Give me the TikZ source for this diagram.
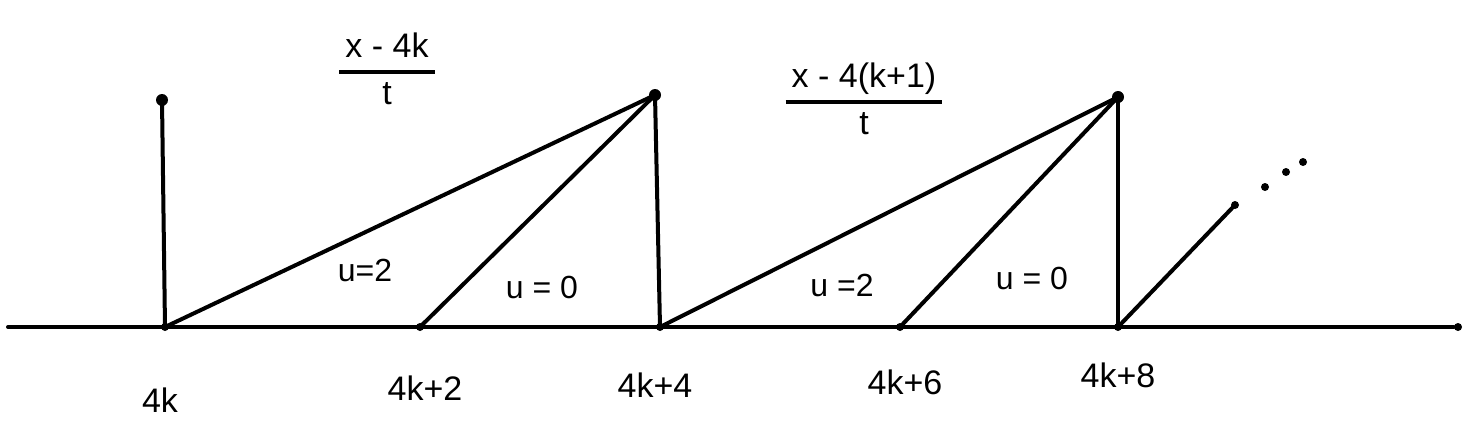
\documentclass[tikz,border=0pt]{standalone}
\usepackage{fontspec}
\setmainfont{Liberation Sans}
\begin{document}
\begin{tikzpicture}[x=1pt,y=-1pt,
  ink/.style={line width=4pt,line cap=round,black},
  blob/.style={circle,fill=black,inner sep=0pt,minimum size=12pt},
  tick/.style={circle,fill=black,inner sep=0pt,minimum size=8pt},
  axlab/.style={font=\fontsize{34}{36}\selectfont},
  ulab/.style={font=\fontsize{32}{34}\selectfont},
  frac/.style={font=\fontsize{34}{38}\selectfont,inner sep=0pt}]
\useasboundingbox (0,0) rectangle (1480,428);
% axis
\coordinate (L) at (8,327);
\node[tick] (R) at (1458,327) {};
\draw[ink] (L) -- (R);
% points
\node[blob] (A0) at (162,100) {};
\node[tick] (B0) at (165,327) {};
\node[blob] (P) at (655,95) {};
\node[tick] (C) at (420,327) {};
\node[tick] (B1) at (660,327) {};
\node[blob] (Q) at (1118,97) {};
\node[tick] (D) at (900,327) {};
\node[tick] (B2) at (1118,327) {};
\node[tick] (E) at (1235,205) {};
% connectors
\draw[ink] (A0.center) -- (B0.center);
\draw[ink] (B0.center) -- (P.center);
\draw[ink] (C.center) -- (P.center);
\draw[ink] (P.center) -- (B1.center);
\draw[ink] (B1.center) -- (Q.center);
\draw[ink] (D.center) -- (Q.center);
\draw[ink] (Q.center) -- (B2.center);
\draw[ink] (B2.center) -- (E.center);
% ellipsis dots
\node[tick] (d1) at (1265,187) {};
\node[tick] (d2) at (1286,172) {};
\node[tick] (d3) at (1303,162) {};
% fractions
\node[frac] (f1) at (387,72) {\setlength\arrayrulewidth{3.5pt}\renewcommand\arraystretch{1.15}\begin{tabular}{c}x - 4k\\\hline t\end{tabular}};
\node[frac] (f2) at (864,102) {\setlength\arrayrulewidth{3.5pt}\renewcommand\arraystretch{1.15}\begin{tabular}{c}x - 4(k+1)\\\hline t\end{tabular}};
% region labels
\node[ulab] (u1) at (365,270) {u=2};
\node[ulab] (u2) at (542,287) {u = 0};
\node[ulab] (u3) at (842,285) {u =2};
\node[ulab] (u4) at (1032,278) {u = 0};
% axis labels
\node[axlab] (l0) at (160,400) {4k};
\node[axlab] (l2) at (425,388) {4k+2};
\node[axlab] (l4) at (655,385) {4k+4};
\node[axlab] (l6) at (905,382) {4k+6};
\node[axlab] (l8) at (1118,375) {4k+8};
\end{tikzpicture}
\end{document}
